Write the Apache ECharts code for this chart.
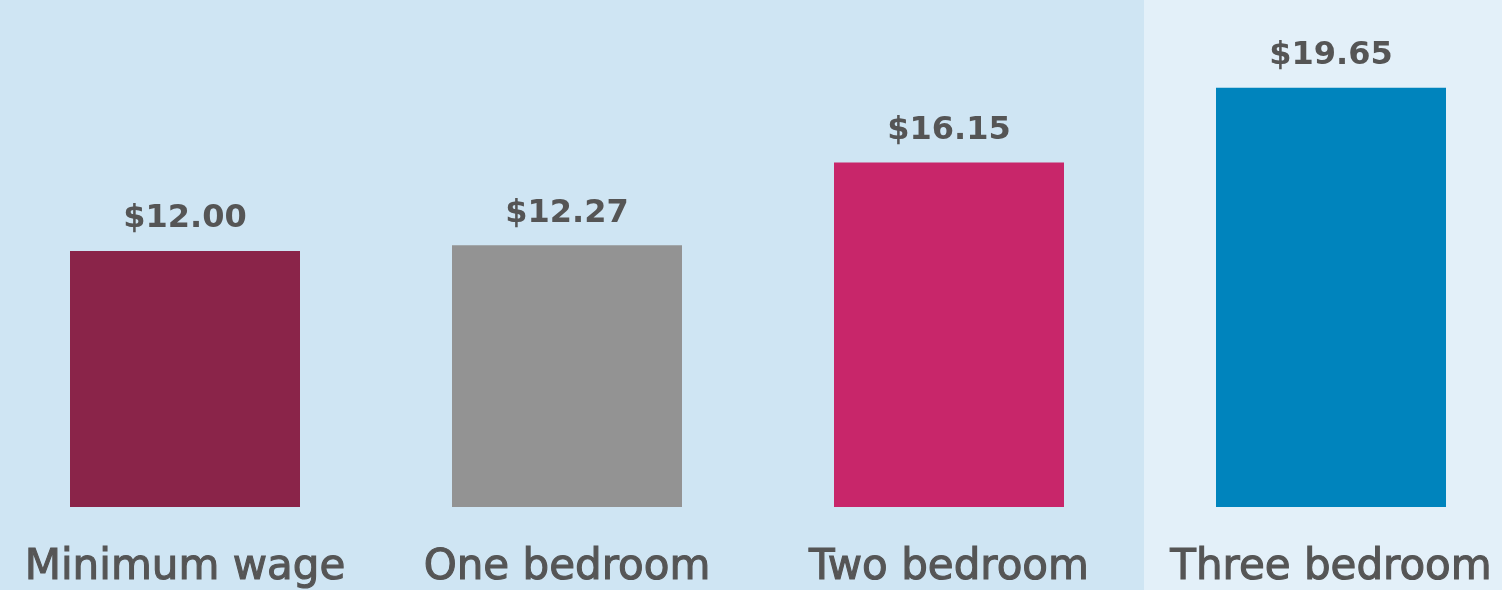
<!DOCTYPE html>
<html>
<head>
<meta charset="utf-8">
<script src="https://cdn.jsdelivr.net/npm/echarts@6/dist/echarts.min.js"></script>
<style>
  html, body { margin: 0; padding: 0; background: #cfe5f3; }
  #chart { width: 1502px; height: 590px; }
</style>
</head>
<body>
<div id="chart"></div>
<script>
// Hourly wage needed to afford rent, compared with the minimum wage
const categories = ['Minimum wage', 'One bedroom', 'Two bedroom', 'Three bedroom'];
const wages = [12.00, 12.27, 16.15, 19.65];
const barColors = ['#8a2449', '#939393', '#c8266a', '#0084bd'];

const FONT = '"DejaVu Sans", sans-serif';
const TEXT = '#555555';
const chart = echarts.init(document.getElementById('chart'));

chart.setOption({
  backgroundColor: '#cfe5f3',
  animation: false,
  grid: { left: -6, width: 1528, top: -5, bottom: 83, outerBoundsMode: 'none', containLabel: false },
  xAxis: {
    type: 'category',
    data: categories,
    axisLine: { show: false },
    axisTick: { show: false },
    axisLabel: {
      interval: 0,
      margin: 40,
      color: TEXT,
      fontFamily: FONT,
      fontWeight: 'normal',
      fontSize: 42,
      textBorderColor: TEXT,
      textBorderWidth: 1.1
    }
  },
  yAxis: {
    type: 'value',
    min: 0,
    max: 24,
    show: false,
    splitLine: { show: false }
  },
  series: [{
    type: 'bar',
    barWidth: 230,
    data: wages.map((v, i) => ({ value: v, itemStyle: { color: barColors[i] } })),
    label: {
      show: true,
      position: 'top',
      distance: 16,
      color: TEXT,
      fontFamily: FONT,
      fontWeight: 'bold',
      fontSize: 32,
      formatter: p => '$' + p.value.toFixed(2)
    }
  }]
});

// Lighter panel behind the last category, starting just past the band boundary
const c2 = chart.convertToPixel({ xAxisIndex: 0 }, categories[2]);
const c3 = chart.convertToPixel({ xAxisIndex: 0 }, categories[3]);
const split = (c2 + c3) / 2 + 4;
chart.setOption({
  graphic: [{
    type: 'rect',
    z: -10,
    silent: true,
    shape: { x: split, y: 0, width: 1502 - split, height: 590 },
    style: { fill: '#e3f0f9' }
  }]
});
</script>
</body>
</html>
